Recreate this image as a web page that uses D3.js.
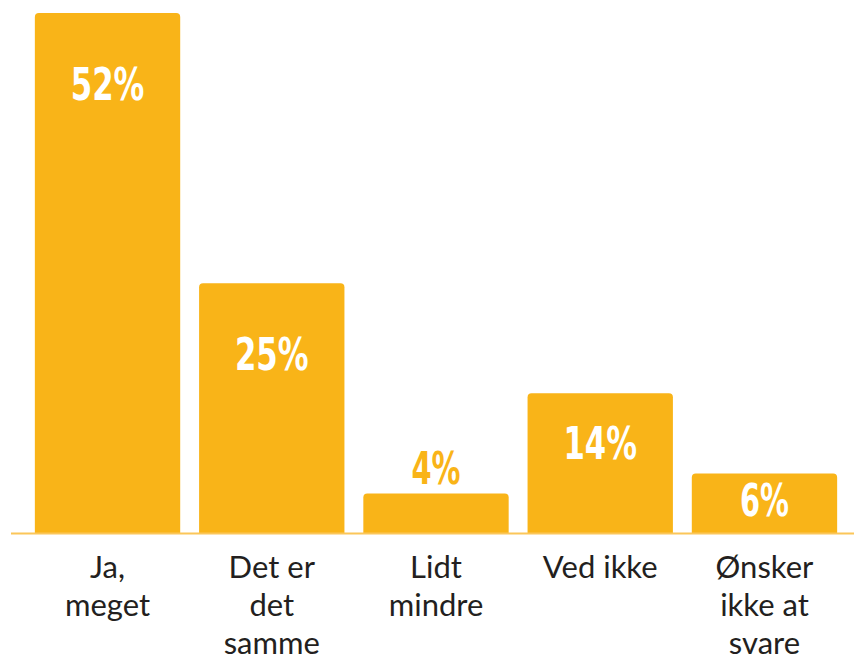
<!DOCTYPE html>
<html>
<head>
<meta charset="utf-8">
<script src="https://cdn.jsdelivr.net/npm/d3@7"></script>
<style>
  body { margin: 0; background: #fff; }
  svg { display: block; }
</style>
</head>
<body>
<svg id="chart" width="854" height="659"></svg>
<script>
// categories (already broken into lines as in the picture)
const categories = [
  ['Ja,', 'meget'],
  ['Det er', 'det', 'samme'],
  ['Lidt', 'mindre'],
  ['Ved ikke'],
  ['Ønsker', 'ikke at', 'svare'],
];
const values = [52, 25, 4, 14, 6];
const valueLabels = ['52%', '25%', '4%', '14%', '6%'];

const BAR = '#F9B418';
const svg = d3.select('#chart');

const xScale = d3
  .scaleBand()
  .domain(d3.range(values.length))
  .range([25, 847])
  .paddingInner(0.115)
  .paddingOuter(0.06);
const yScale = d3.scaleLinear().domain([0, 52]).range([533.5, 13]);

// bars with rounded top corners only
const barPath = (i) => {
  const x0 = xScale(i), w = xScale.bandwidth();
  const y0 = yScale(values[i]), y1 = yScale(0), r = 4;
  return `M${x0},${y1}V${y0 + r}Q${x0},${y0} ${x0 + r},${y0}H${x0 + w - r}` +
    `Q${x0 + w},${y0} ${x0 + w},${y0 + r}V${y1}Z`;
};

svg.selectAll('.bar')
  .data(values)
  .enter()
  .append('path')
  .classed('bar', true)
  .attr('d', (d, i) => barPath(i))
  .style('fill', BAR);

// baseline
svg.append('line')
  .attr('x1', 11).attr('x2', 854)
  .attr('y1', yScale(0)).attr('y2', yScale(0))
  .style('stroke', '#FBC659')
  .style('stroke-width', 2);

// value labels: inside the bar, or above it when the bar is too short
const labelOffset = (h) => (h > 200 ? 87 : h > 100 ? 66 : h > 50 ? 43 : -9);
svg.selectAll('.val')
  .data(values)
  .enter()
  .append('text')
  .classed('val', true)
  .attr('x', (d, i) => xScale(i) + xScale.bandwidth() / 2)
  .attr('y', (d) => yScale(d) + labelOffset(yScale(0) - yScale(d)))
  .attr('text-anchor', 'middle')
  .style('font-family', '"DejaVu Sans Condensed", "DejaVu Sans", sans-serif')
  .style('font-stretch', 'condensed')
  .style('font-weight', 'bold')
  .style('font-size', '45px')
  .style('fill', (d) => (yScale(0) - yScale(d) > 50 ? '#fff' : BAR))
  .attr('textLength', (d, i) => valueLabels[i].length * 24.5)
  .attr('lengthAdjust', 'spacingAndGlyphs')
  .text((d, i) => valueLabels[i]);

// category labels
const cat = svg.selectAll('.cat')
  .data(categories)
  .enter()
  .append('text')
  .classed('cat', true)
  .attr('text-anchor', 'middle')
  .style('font-family', 'Lato, sans-serif')
  .style('font-size', '31px')
  .style('fill', '#231F20');

cat.selectAll('tspan')
  .data((d, i) => d.map((line) => ({ line, i })))
  .enter()
  .append('tspan')
  .attr('x', (d) => xScale(d.i) + xScale.bandwidth() / 2)
  .attr('y', (d, j) => 578 + j * 38)
  .text((d) => d.line);
</script>
</body>
</html>
